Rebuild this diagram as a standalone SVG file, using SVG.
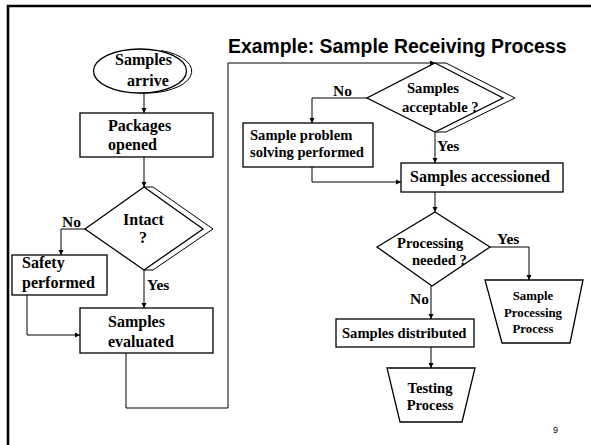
<svg xmlns="http://www.w3.org/2000/svg" width="591" height="445" viewBox="0 0 591 445">
  <style>
    .shape { fill: #ffffff; stroke: #000000; stroke-width: 1.3; }
    .shadow { fill: none; stroke: #000000; stroke-width: 1; }
    .conn { fill: none; stroke: #000000; stroke-width: 1; }
    .t16 { font-family: "Liberation Serif", "Times New Roman", serif; font-weight: bold; font-size: 16px; fill: #000000; }
    .t15 { font-family: "Liberation Serif", "Times New Roman", serif; font-weight: bold; font-size: 14.6px; fill: #000000; }
    .t13 { font-family: "Liberation Serif", "Times New Roman", serif; font-weight: bold; font-size: 12.8px; fill: #000000; }
    .lbl { font-family: "Liberation Serif", "Times New Roman", serif; font-weight: bold; font-size: 15.5px; fill: #000000; }
    .title { font-family: "Liberation Sans", Arial, sans-serif; font-weight: bold; font-size: 19.4px; fill: #000000; }
    .pg { font-family: "Liberation Sans", Arial, sans-serif; font-size: 9px; fill: #000000; }
  </style>
  <defs>
    <marker id="arrow" markerWidth="6" markerHeight="6" refX="5" refY="3" orient="auto" markerUnits="userSpaceOnUse">
      <path d="M0,0.5 L5,3 L0,5.5 Z" fill="#000000"/>
    </marker>
  </defs>

  <rect x="0" y="0" width="591" height="445" fill="#ffffff"/>

  <!-- slide frame: top and left rules -->
  <g id="frame">
    <line x1="7" y1="6" x2="591" y2="6" stroke="#000000" stroke-width="2.6"/>
    <line x1="8" y1="5" x2="8" y2="445" stroke="#000000" stroke-width="2.6"/>
  </g>

  <text class="title" x="228" y="53">Example: Sample Receiving Process</text>

  <!-- connectors -->
  <g id="connectors">
    <line class="conn" x1="144" y1="93" x2="144" y2="113" marker-end="url(#arrow)"/>
    <line class="conn" x1="144" y1="157" x2="144" y2="187" marker-end="url(#arrow)"/>
    <polyline class="conn" points="85,229 61,229 61,255" marker-end="url(#arrow)"/>
    <line class="conn" x1="144" y1="270" x2="144" y2="308" marker-end="url(#arrow)"/>
    <polyline class="conn" points="27,295 27,335 80,335" marker-end="url(#arrow)"/>
    <polyline class="conn" points="126,353 126,408 228,408 228,63 435,63" marker-end="url(#arrow)"/>
    <polyline class="conn" points="367,98 312,98 312,123" marker-end="url(#arrow)"/>
    <line class="conn" x1="435" y1="132" x2="435" y2="163" marker-end="url(#arrow)"/>
    <polyline class="conn" points="312,167 312,182 401,182" marker-end="url(#arrow)"/>
    <line class="conn" x1="435" y1="192" x2="435" y2="212" marker-end="url(#arrow)"/>
    <polyline class="conn" points="490,247 529,247 529,280" marker-end="url(#arrow)"/>
    <line class="conn" x1="431" y1="286" x2="431" y2="319" marker-end="url(#arrow)"/>
    <line class="conn" x1="431" y1="347" x2="431" y2="368" marker-end="url(#arrow)"/>
  </g>

  <!-- branch labels -->
  <g id="labels">
    <text class="lbl" x="62" y="227">No</text>
    <text class="lbl" x="147" y="290">Yes</text>
    <text class="lbl" x="333" y="96">No</text>
    <text class="lbl" x="437" y="151">Yes</text>
    <text class="lbl" x="497" y="244">Yes</text>
    <text class="lbl" x="410" y="304">No</text>
  </g>

  <g id="samples-arrive">
    <path class="shadow" d="M161,50.5 A46.5,22 0 0 1 139,93"/>
    <ellipse class="shape" cx="140" cy="71" rx="46.5" ry="22"/>
    <text class="t16" x="115" y="65">Samples</text>
    <text class="t16" x="127" y="86">arrive</text>
  </g>

  <g id="packages-opened">
    <rect class="shape" x="80" y="113" width="133" height="44"/>
    <text class="t16" x="108" y="131">Packages</text>
    <text class="t16" x="108" y="150">opened</text>
  </g>

  <g id="intact">
    <polyline class="shadow" points="144,187 153,187 213,229 153,270 144,270"/>
    <polygon class="shape" points="144,187 203,229 144,270 85,229"/>
    <text class="t16" x="123" y="225">Intact</text>
    <text class="t16" x="143" y="243" text-anchor="middle">?</text>
  </g>

  <g id="safety-performed">
    <rect class="shape" x="12" y="255" width="95" height="40"/>
    <text class="t16" x="22" y="268">Safety</text>
    <text class="t16" x="22" y="288">performed</text>
  </g>

  <g id="samples-evaluated">
    <rect class="shape" x="80" y="308" width="133" height="45"/>
    <text class="t16" x="108" y="327">Samples</text>
    <text class="t16" x="108" y="347">evaluated</text>
  </g>

  <g id="samples-acceptable">
    <polyline class="shadow" points="435,63 446,63 515,98 446,132 435,132"/>
    <polygon class="shape" points="435,63 503,98 435,132 367,98"/>
    <text class="t15" x="407" y="93">Samples</text>
    <text class="t15" x="402" y="112">acceptable ?</text>
  </g>

  <g id="problem-solving">
    <rect class="shape" x="243" y="123" width="130" height="44"/>
    <text class="t15" x="250" y="140">Sample problem</text>
    <text class="t15" x="250" y="157">solving performed</text>
  </g>

  <g id="samples-accessioned">
    <rect class="shape" x="401" y="163" width="162" height="29"/>
    <text class="t16" x="410" y="182">Samples accessioned</text>
  </g>

  <g id="processing-needed">
    <polygon class="shape" points="435,212 490,247 432,286 377,247"/>
    <text class="t15" x="397" y="248">Processing</text>
    <text class="t15" x="412" y="265">needed ?</text>
  </g>

  <g id="sample-processing-process">
    <polygon class="shape" points="485,280 583,280 570,343 502,343"/>
    <text class="t13" x="533" y="300" text-anchor="middle">Sample</text>
    <text class="t13" x="533" y="317" text-anchor="middle">Processing</text>
    <text class="t13" x="533" y="333" text-anchor="middle">Process</text>
  </g>

  <g id="samples-distributed">
    <rect class="shape" x="336" y="319" width="138" height="28"/>
    <text class="t15" x="342" y="338">Samples distributed</text>
  </g>

  <g id="testing-process">
    <polygon class="shape" points="387,368 475,368 462,422 400,422"/>
    <text class="t15" x="430" y="393" text-anchor="middle">Testing</text>
    <text class="t15" x="430" y="410" text-anchor="middle">Process</text>
  </g>

  <text class="pg" x="553" y="433">9</text>
</svg>
